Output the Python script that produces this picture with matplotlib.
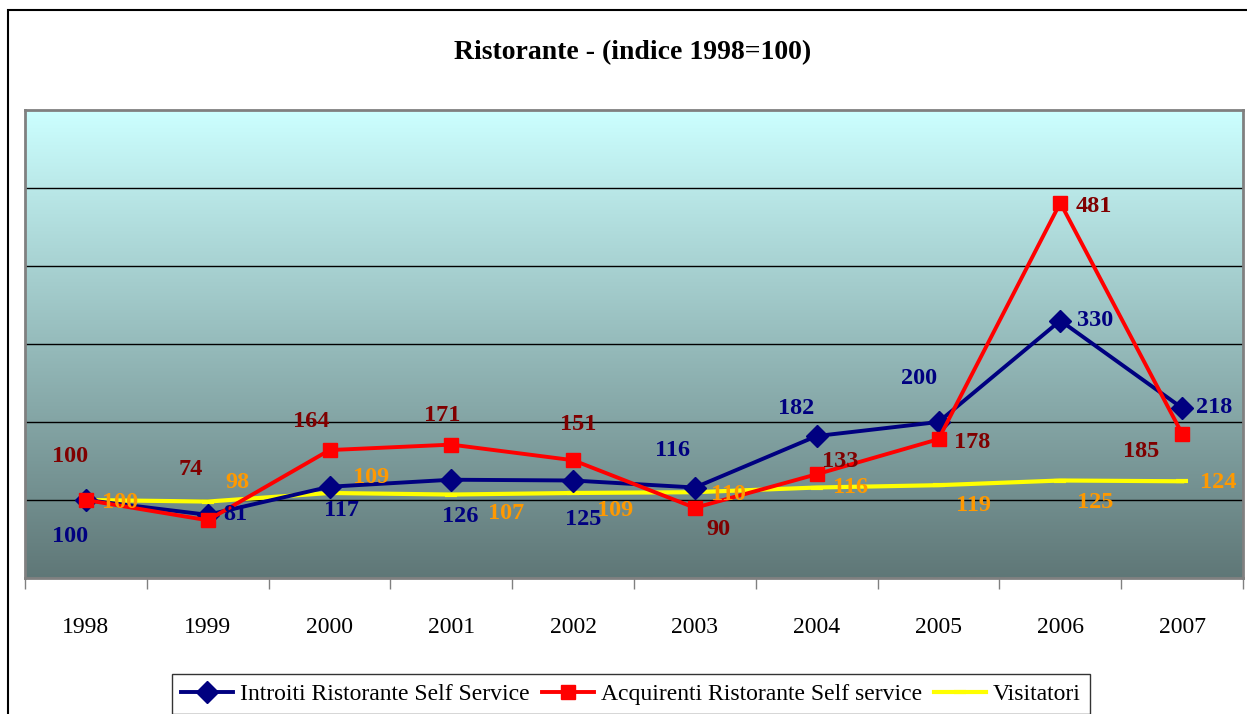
import numpy as np
import matplotlib
matplotlib.use("Agg")
import matplotlib.pyplot as plt
from matplotlib.patches import Rectangle

plt.rcParams['font.family'] = ['Liberation Serif', 'DejaVu Serif']

years = ['1998', '1999', '2000', '2001', '2002', '2003', '2004', '2005', '2006', '2007']
introiti = [100, 81, 117, 126, 125, 116, 182, 200, 330, 218]
acquirenti = [100, 74, 164, 171, 151, 90, 133, 178, 481, 185]
visitatori = [100, 98, 109, 107, 109, 110, 116, 119, 125, 124]

# label offsets in pixels (dx right, dy down) as placed in the original
off_introiti = [(-16, 37), (28, 0), (12, 24), (9, 37), (10, 39),
                (-22, -37), (-21, -28), (-19, -43), (35, 0), (32, 0)]
off_acquirenti = [(-16, -43), (-17, -51), (-18, -29), (-9, -29), (5, -36),
                  (24, 22), (23, -13), (34, 3), (34, 4), (-41, 18)]
off_visitatori = [(34, 2), (30, -19), (42, -15), (55, 19), (42, 18),
                  (34, 2), (34, 0), (35, 20), (35, 22), (36, 1)]

W, H = 1247, 714
fig = plt.figure(figsize=(W / 100, H / 100), dpi=100)
ax = fig.add_axes([25 / W, 1 - 578 / H, 1218 / W, 468 / H])

x = np.arange(len(years))
ax.set_xlim(-0.5, 9.5)
ax.set_ylim(0, 600)

# gradient background
top = np.array([204, 255, 255]) / 255
bot = np.array([95, 119, 119]) / 255
t = np.linspace(0, 1, 256)[:, None]
grad = (top * (1 - t) + bot * t)[:, None, :]
ax.imshow(grad, extent=[-0.5, 9.5, 0, 600], aspect='auto', zorder=0, origin='upper')

for yv in [100, 200, 300, 400, 500]:
    ax.axhline(yv, color='black', lw=1, zorder=1)

ax.plot(x, visitatori, color='#FFFF00', lw=3, marker='_', ms=8, mew=3,
        zorder=3, label='Visitatori')
ax.plot(x, introiti, color='#000080', lw=2.8, marker='D', ms=11,
        zorder=4, label='Introiti Ristorante Self Service')
ax.plot(x, acquirenti, color='#FF0000', lw=2.8, marker='s', ms=10,
        zorder=5, label='Acquirenti Ristorante Self service')

lab_kw = dict(textcoords='offset pixels', ha='center', va='center',
              fontsize=17.5, fontweight='bold', zorder=6)
for xi, v, (dx, dy) in zip(x, introiti, off_introiti):
    ax.annotate(str(v), (xi, v), xytext=(dx, -dy), color='#000080', **lab_kw)
for xi, v, (dx, dy) in zip(x, acquirenti, off_acquirenti):
    ax.annotate(str(v), (xi, v), xytext=(dx, -dy), color='#800000', **lab_kw)
for xi, v, (dx, dy) in zip(x, visitatori, off_visitatori):
    ax.annotate(str(v), (xi, v), xytext=(dx, -dy), color='#FF9900', **lab_kw)

ax.set_yticks([])
ax.set_xticks(x)
ax.set_xticklabels(years, fontsize=17)
ax.tick_params(axis='x', which='major', length=0, pad=28)
ax.set_xticks(np.arange(-0.5, 10, 1), minor=True)
ax.tick_params(axis='x', which='minor', length=8, width=1, color='#808080',
               direction='out')
for s in ax.spines.values():
    s.set_color('#808080')
    s.set_linewidth(2)

fig.text(633 / W, 1 - 53 / H, 'Ristorante - (indice 1998=100)', ha='center',
         va='center', fontsize=20, fontweight='bold')

# outer chart border
fig.patches.append(Rectangle((8 / W, -0.05), 1.1, 1 - 10 / H + 0.05,
                             transform=fig.transFigure, fill=False,
                             edgecolor='black', lw=1.5))

h, l = ax.get_legend_handles_labels()
order = [1, 2, 0]
leg = fig.legend([h[i] for i in order], [l[i] for i in order], loc='center',
                 bbox_to_anchor=(631 / W, 1 - 694 / H), ncol=3, fontsize=17,
                 frameon=True, fancybox=False, handlelength=2.2,
                 handletextpad=0.3, columnspacing=0.5, borderpad=0.4)
leg.get_frame().set_edgecolor('black')
leg.get_frame().set_linewidth(1)

fig.savefig('out.png', dpi=100)
